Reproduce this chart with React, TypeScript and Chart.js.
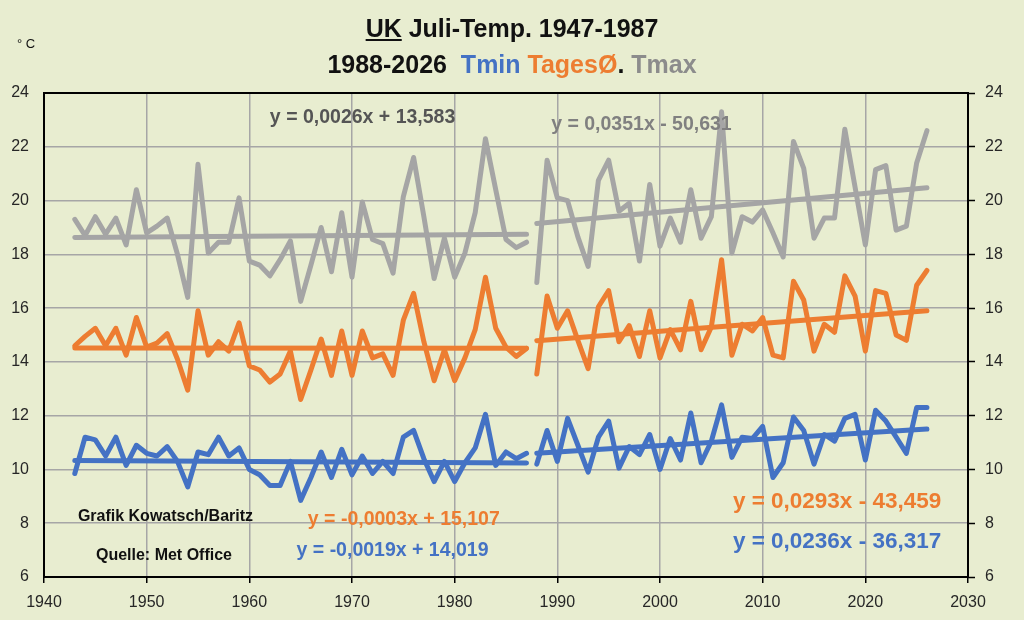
import React, { useEffect, useRef } from "react";
import { Chart, registerables } from "chart.js";

Chart.register(...registerables);

// ---------- data ----------
const yearsA = [
  1943, 1944, 1945, 1946, 1947, 1948, 1949, 1950, 1951, 1952,
  1953, 1954, 1955, 1956, 1957, 1958, 1959, 1960, 1961, 1962,
  1963, 1964, 1965, 1966, 1967, 1968, 1969, 1970, 1971, 1972,
  1973, 1974, 1975, 1976, 1977, 1978, 1979, 1980, 1981, 1982,
  1983, 1984, 1985, 1986, 1987,
];
const yearsB = [
  1988, 1989, 1990, 1991, 1992, 1993, 1994, 1995, 1996, 1997,
  1998, 1999, 2000, 2001, 2002, 2003, 2004, 2005, 2006, 2007,
  2008, 2009, 2010, 2011, 2012, 2013, 2014, 2015, 2016, 2017,
  2018, 2019, 2020, 2021, 2022, 2023, 2024, 2025, 2026,
];

const tmaxA = [
  19.3, 18.7, 19.4, 18.75, 19.35, 18.35, 20.4, 18.8, 19.05, 19.35,
  18.0, 16.4, 21.35, 18.05, 18.45, 18.45, 20.1, 17.75, 17.6, 17.2,
  17.8, 18.5, 16.25, 17.6, 19.0, 17.35, 19.55, 17.15, 19.95, 18.55,
  18.4, 17.3, 20.15, 21.6, 19.4, 17.1, 18.6, 17.15, 18.05, 19.55,
  22.3, 20.4, 18.55, 18.25, 18.45,
];
const tmaxB = [
  16.95, 21.5, 20.1, 20.0, 18.65, 17.55, 20.75, 21.5, 19.6, 19.9,
  17.75, 20.6, 18.3, 19.35, 18.45, 20.4, 18.6, 19.4, 23.3, 18.05,
  19.4, 19.2, 19.65, 18.8, 17.9, 22.2, 21.2, 18.6, 19.35, 19.35,
  22.65, 20.5, 18.35, 21.15, 21.3, 18.9, 19.05, 21.4, 22.6,
];
const tavgA = [
  14.6, 14.95, 15.25, 14.6, 15.25, 14.25, 15.65, 14.55, 14.7, 15.05,
  14.1, 12.95, 15.9, 14.25, 14.75, 14.4, 15.45, 13.85, 13.7, 13.25,
  13.55, 14.4, 12.6, 13.7, 14.85, 13.5, 15.15, 13.5, 15.15, 14.15,
  14.3, 13.5, 15.55, 16.55, 14.75, 13.3, 14.45, 13.3, 14.15, 15.2,
  17.15, 15.25, 14.55, 14.2, 14.5,
];
const tavgB = [
  13.55, 16.45, 15.25, 15.9, 14.8, 13.75, 16.05, 16.65, 14.75, 15.35,
  14.2, 15.9, 14.15, 15.2, 14.45, 16.25, 14.45, 15.3, 17.8, 14.25,
  15.4, 15.15, 15.65, 14.25, 14.15, 17.0, 16.3, 14.4, 15.4, 15.1,
  17.2, 16.45, 14.4, 16.65, 16.55, 15.0, 14.8, 16.85, 17.4,
];
const tminA = [
  9.85, 11.2, 11.1, 10.5, 11.2, 10.15, 10.9, 10.6, 10.5, 10.85,
  10.3, 9.35, 10.65, 10.55, 11.2, 10.5, 10.8, 10.0, 9.8, 9.4,
  9.4, 10.3, 8.85, 9.7, 10.65, 9.7, 10.75, 9.8, 10.5, 9.85,
  10.3, 9.85, 11.2, 11.45, 10.4, 9.55, 10.3, 9.55, 10.25, 10.8,
  12.05, 10.15, 10.65, 10.4, 10.6,
];
const tminB = [
  10.2, 11.45, 10.3, 11.9, 10.9, 9.9, 11.2, 11.8, 10.05, 10.85,
  10.55, 11.3, 10.0, 11.15, 10.35, 12.1, 10.25, 11.05, 12.4, 10.45,
  11.2, 11.15, 11.6, 9.7, 10.25, 11.95, 11.45, 10.2, 11.3, 11.05,
  11.9, 12.05, 10.35, 12.2, 11.8, 11.2, 10.6, 12.3, 12.3,
];

// trend line end points (from the equations shown)
const trendYearsA = [1943, 1987];
const trendYearsB = [1988, 2026];
const trendTmaxA = [18.63, 18.75];
const trendTmaxB = [19.15, 20.48];
const trendTavgA = [14.52, 14.51];
const trendTavgB = [14.79, 15.9];
const trendTminA = [10.33, 10.24];
const trendTminB = [10.6, 11.5];

const xTicks = { min: 1940, max: 2030, step: 10 };
const yTicks = { min: 6, max: 24, step: 2 };

// ---------- styles ----------
const BG = "rgb(232,237,208)";
const GRAY = "#A5A5A5";
const ORANGE = "#ED7D31";
const BLUE = "#4472C4";
const FONT = "'Liberation Sans', Arial, sans-serif";

const labels = [
  { text: "y = 0,0026x + 13,583", color: "#555555", x: 1962.0, y: 23.07, size: 19.5 },
  { text: "y = 0,0351x - 50,631", color: "#808080", x: 1989.4, y: 22.81, size: 19.5 },
  { text: "Grafik Kowatsch/Baritz", color: "#111111", x: 1943.3, y: 8.23, size: 16 },
  { text: "Quelle: Met Office", color: "#111111", x: 1945.06, y: 6.78, size: 16 },
  { text: "y = -0,0003x + 15,107", color: ORANGE, x: 1965.7, y: 8.12, size: 19.5 },
  { text: "y = -0,0019x + 14,019", color: BLUE, x: 1964.6, y: 6.97, size: 19.5 },
  { text: "y = 0,0293x - 43,459", color: ORANGE, x: 2007.1, y: 8.78, size: 22.5 },
  { text: "y = 0,0236x - 36,317", color: BLUE, x: 2007.1, y: 7.3, size: 22.5 },
];

const pts = (xs: number[], ys: number[]) => xs.map((x, i) => ({ x, y: ys[i] }));

const series = (data: { x: number; y: number }[], color: string, order: number) => ({
  data,
  borderColor: color,
  backgroundColor: color,
  borderWidth: 5,
  borderJoinStyle: "round",
  borderCapStyle: "round",
  showLine: true,
  pointRadius: 0,
  pointHoverRadius: 0,
  fill: false,
  tension: 0,
  order,
});

const decorPlugin = {
  id: "decor",
  beforeDraw(chart: any) {
    const { ctx, width, height } = chart;
    ctx.save();
    ctx.fillStyle = BG;
    ctx.fillRect(0, 0, width, height);
    ctx.restore();
  },
  afterDraw(chart: any) {
    const { ctx, chartArea } = chart;
    const xs = chart.scales.x;
    const ys = chart.scales.y;
    ctx.save();
    ctx.strokeStyle = "#000";
    ctx.lineWidth = 2;
    ctx.strokeRect(chartArea.left, chartArea.top, chartArea.right - chartArea.left, chartArea.bottom - chartArea.top);
    ctx.textBaseline = "middle";
    ctx.textAlign = "left";
    for (const l of labels) {
      ctx.font = `bold ${l.size}px ${FONT}`;
      ctx.fillStyle = l.color;
      ctx.fillText(l.text, xs.getPixelForValue(l.x), ys.getPixelForValue(l.y));
    }
    ctx.restore();
  },
};

export default function App() {
  const canvasRef = useRef<HTMLCanvasElement | null>(null);

  useEffect(() => {
    document.body.style.margin = "0";
    document.body.style.background = BG;
    const canvas = canvasRef.current;
    if (!canvas) return;
    const tickFont = { family: FONT, size: 16 };
    const chart = new Chart(canvas, {
      type: "scatter",
      data: {
        datasets: [
          series(pts(yearsA, tmaxA), GRAY, 2),
          series(pts(yearsB, tmaxB), GRAY, 2),
          series(pts(yearsA, tavgA), ORANGE, 2),
          series(pts(yearsB, tavgB), ORANGE, 2),
          series(pts(yearsA, tminA), BLUE, 2),
          series(pts(yearsB, tminB), BLUE, 2),
          series(pts(trendYearsA, trendTmaxA), GRAY, 1),
          series(pts(trendYearsB, trendTmaxB), GRAY, 1),
          series(pts(trendYearsA, trendTavgA), ORANGE, 1),
          series(pts(trendYearsB, trendTavgB), ORANGE, 1),
          series(pts(trendYearsA, trendTminA), BLUE, 1),
          series(pts(trendYearsB, trendTminB), BLUE, 1),
        ] as any,
      },
      options: {
        animation: false,
        responsive: true,
        maintainAspectRatio: false,
        layout: { padding: { top: 93, left: 0, right: 0, bottom: 0 } },
        plugins: {
          legend: { display: false },
          tooltip: { enabled: false },
          title: { display: false },
        },
        scales: {
          x: {
            type: "linear",
            min: xTicks.min,
            max: xTicks.max,
            ticks: {
              stepSize: xTicks.step,
              color: "#262626",
              font: tickFont,
              padding: 10,
              callback: (v: any) => String(v),
            },
            grid: { color: "#A6A6A6", lineWidth: 1.5, tickLength: 6, tickColor: "#000" },
            border: { display: false },
            afterFit: (s: any) => {
              s.height = 43;
            },
          },
          y: {
            type: "linear",
            position: "left",
            min: yTicks.min,
            max: yTicks.max,
            ticks: { stepSize: yTicks.step, color: "#262626", font: tickFont, padding: 15 },
            grid: { color: "#A6A6A6", lineWidth: 1.5, drawTicks: false },
            border: { display: false },
            afterFit: (s: any) => {
              s.width = 44;
            },
          },
          y2: {
            type: "linear",
            position: "right",
            min: yTicks.min,
            max: yTicks.max,
            ticks: { stepSize: yTicks.step, color: "#262626", font: tickFont, padding: 10 },
            grid: { drawOnChartArea: false, tickLength: 7, tickColor: "#000", tickWidth: 1.5 },
            border: { display: false },
            afterFit: (s: any) => {
              s.width = 56;
            },
          },
        },
      } as any,
      plugins: [decorPlugin],
    });
    return () => chart.destroy();
  }, []);

  return (
    <div style={{ position: "absolute", left: 0, top: 0, width: 1024, height: 620, background: BG, fontFamily: FONT }}>
      <canvas ref={canvasRef} />
      <div
        style={{
          position: "absolute",
          left: 0,
          top: 10,
          width: 1024,
          textAlign: "center",
          fontWeight: "bold",
          fontSize: 25,
          lineHeight: "36px",
          color: "#111",
          pointerEvents: "none",
        }}
      >
        <div>
          <u>UK</u> Juli-Temp. 1947-1987
        </div>
        <div>
          1988-2026&nbsp;&nbsp;<span style={{ color: BLUE }}>Tmin</span>{" "}
          <span style={{ color: ORANGE }}>TagesØ</span>.{" "}
          <span style={{ color: "#8C8C8C" }}>Tmax</span>
        </div>
      </div>
      <div
        style={{
          position: "absolute",
          left: 17,
          top: 36,
          fontSize: 13,
          color: "#111",
          pointerEvents: "none",
        }}
      >
        ° C
      </div>
    </div>
  );
}
